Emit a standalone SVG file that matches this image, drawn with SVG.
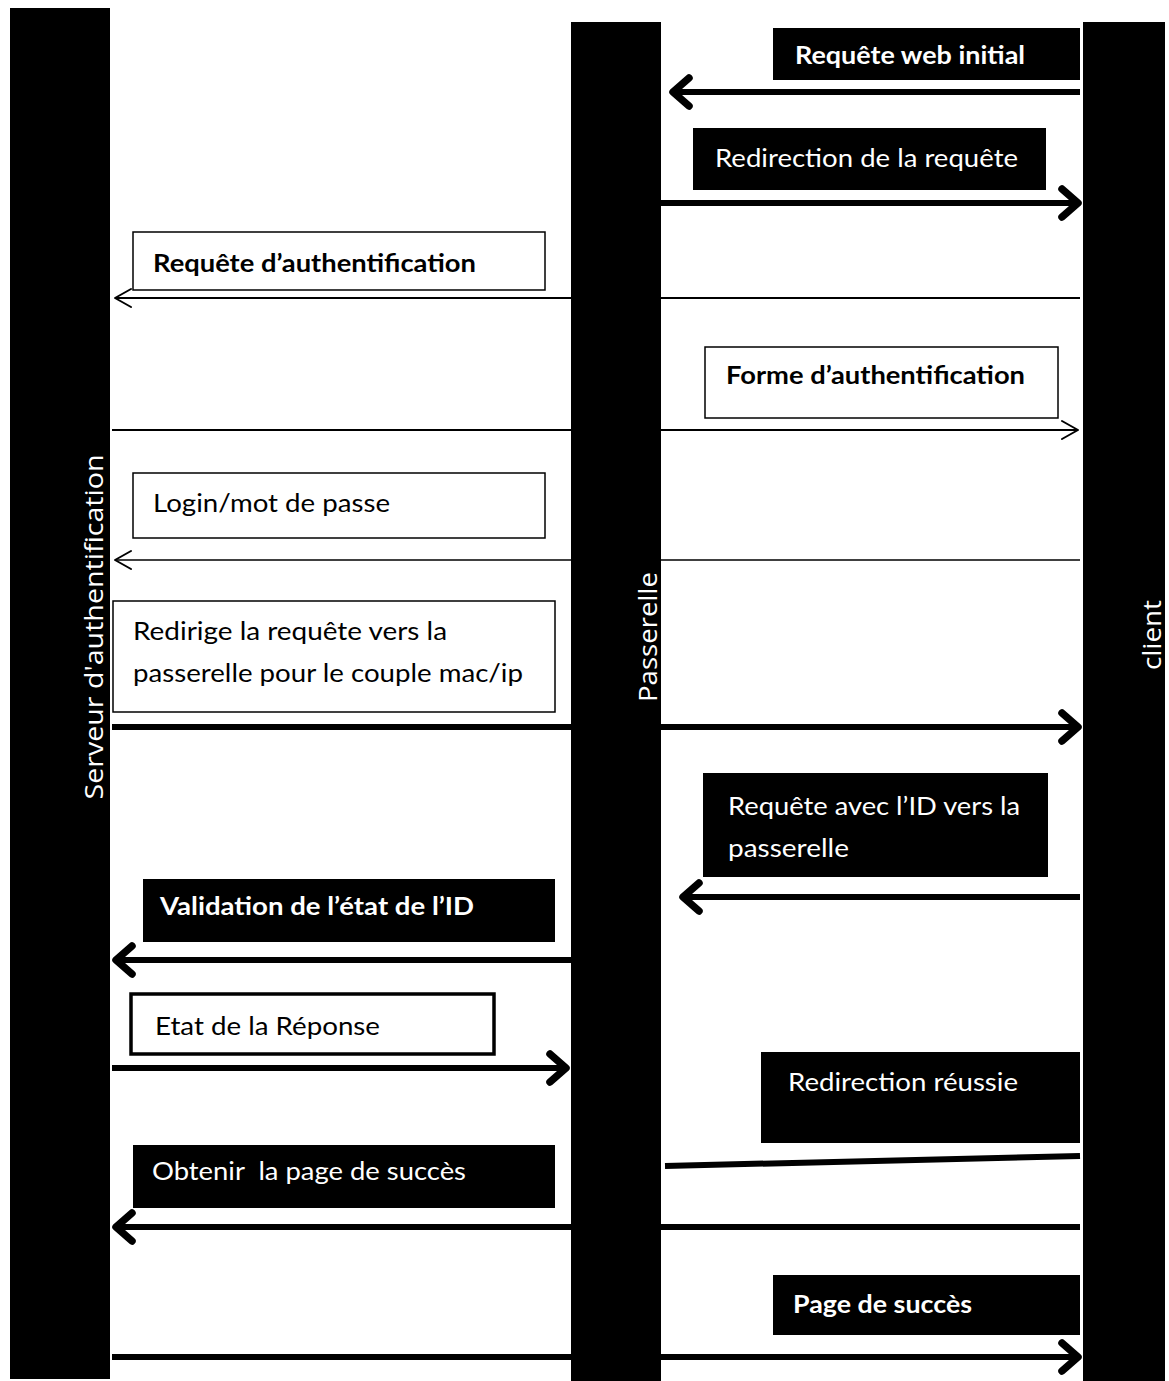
<svg xmlns="http://www.w3.org/2000/svg" width="1169" height="1381" viewBox="0 0 1169 1381">
  <style>
    .bar { fill: #000; }
    .barlbl { fill: #fff; font-family: "Open Sans", "DejaVu Sans", sans-serif; font-size: 25px; }
    .bd { fill: #000; }
    .bw { fill: #fff; stroke: #000; stroke-width: 1.5; }
    .bw3 { fill: #fff; stroke: #000; stroke-width: 3.5; }
    .tl { fill: #fff; font-family: Lato, "Liberation Sans", sans-serif; font-size: 25px; }
    .td { fill: #000; font-family: Lato, "Liberation Sans", sans-serif; font-size: 25px; }
    .b { font-weight: bold; }
    .thick { fill: none; stroke: #000; stroke-width: 6; }
    .thin { fill: none; stroke: #000; stroke-width: 2; }
    .hair { fill: none; stroke: #000; stroke-width: 1.5; }
  </style>
  <defs>
    <marker id="hThick" markerUnits="userSpaceOnUse" viewBox="-26 -20 32 40" markerWidth="32" markerHeight="40" refX="0" refY="0" orient="auto">
      <path d="M-16,-14 L0,0 L-16,14" fill="none" stroke="#000" stroke-width="7.5" stroke-linecap="round" stroke-linejoin="round"/>
    </marker>
    <marker id="hThin" markerUnits="userSpaceOnUse" viewBox="-22 -14 26 28" markerWidth="26" markerHeight="28" refX="0" refY="0" orient="auto">
      <path d="M-16,-9 L0,0 L-16,9" fill="none" stroke="#000" stroke-width="2" stroke-linecap="round" stroke-linejoin="round"/>
    </marker>
  </defs>
  <rect width="1169" height="1381" fill="#fff"/>

  <g id="connectors">
    <path class="thick" d="M1080,92 L673,92" marker-end="url(#hThick)"/>
    <path class="thick" d="M660,203 L1078,203" marker-end="url(#hThick)"/>
    <path class="thin" d="M1080,298 L115,298" marker-end="url(#hThin)"/>
    <path class="thin" d="M112,430 L1078,430" marker-end="url(#hThin)"/>
    <path class="hair" d="M1080,560 L115,560" marker-end="url(#hThin)"/>
    <path class="thick" d="M112,727 L1078,727" marker-end="url(#hThick)"/>
    <path class="thick" d="M1080,897 L683,897" marker-end="url(#hThick)"/>
    <path class="thick" d="M580,960 L116,960" marker-end="url(#hThick)"/>
    <path class="thick" d="M112,1068 L566,1068" marker-end="url(#hThick)"/>
    <path class="thick" d="M665,1166 L1080,1156"/>
    <path class="thick" d="M1080,1227 L116,1227" marker-end="url(#hThick)"/>
    <path class="thick" d="M112,1357 L1078,1357" marker-end="url(#hThick)"/>
  </g>

  <g id="serveur">
    <rect class="bar" x="10" y="8" width="100" height="1371"/>
    <text class="barlbl" transform="translate(103,627) rotate(-90)" text-anchor="middle" textLength="345" lengthAdjust="spacingAndGlyphs">Serveur d'authentification</text>
  </g>
  <g id="passerelle">
    <rect class="bar" x="571" y="22" width="90" height="1359"/>
    <text class="barlbl" transform="translate(657,637) rotate(-90)" text-anchor="middle" textLength="130" lengthAdjust="spacingAndGlyphs">Passerelle</text>
  </g>
  <g id="client">
    <rect class="bar" x="1083" y="22" width="82" height="1359"/>
    <text class="barlbl" transform="translate(1161,635) rotate(-90)" text-anchor="middle" textLength="70" lengthAdjust="spacingAndGlyphs">client</text>
  </g>

  <g id="m1">
    <rect class="bd" x="773" y="28" width="307" height="52"/>
    <text class="tl b" x="795" y="64" textLength="230" lengthAdjust="spacingAndGlyphs">Requête web initial</text>
  </g>
  <g id="m2">
    <rect class="bd" x="693" y="128" width="353" height="62"/>
    <text class="tl" x="715" y="167" textLength="303" lengthAdjust="spacingAndGlyphs">Redirection de la requête</text>
  </g>
  <g id="m3">
    <rect class="bw" x="133" y="232" width="412" height="58"/>
    <text class="td b" x="153" y="272" textLength="323" lengthAdjust="spacingAndGlyphs">Requête d’authentification</text>
  </g>
  <g id="m4">
    <rect class="bw" x="705" y="347" width="353" height="71"/>
    <text class="td b" x="726" y="384" textLength="299" lengthAdjust="spacingAndGlyphs">Forme d’authentification</text>
  </g>
  <g id="m5">
    <rect class="bw" x="133" y="473" width="412" height="65"/>
    <text class="td" x="153" y="512" textLength="237" lengthAdjust="spacingAndGlyphs">Login/mot de passe</text>
  </g>
  <g id="m6">
    <rect class="bw" x="113" y="601" width="442" height="111"/>
    <text class="td" x="133" y="640" textLength="314" lengthAdjust="spacingAndGlyphs">Redirige la requête vers la</text>
    <text class="td" x="133" y="682" textLength="390" lengthAdjust="spacingAndGlyphs">passerelle pour le couple mac/ip</text>
  </g>
  <g id="m7">
    <rect class="bd" x="703" y="773" width="345" height="104"/>
    <text class="tl" x="728" y="815" textLength="292" lengthAdjust="spacingAndGlyphs">Requête avec l’ID vers la</text>
    <text class="tl" x="728" y="857" textLength="121" lengthAdjust="spacingAndGlyphs">passerelle</text>
  </g>
  <g id="m8">
    <rect class="bd" x="143" y="879" width="412" height="63"/>
    <text class="tl b" x="160" y="915" textLength="314" lengthAdjust="spacingAndGlyphs">Validation de l’état de l’ID</text>
  </g>
  <g id="m9">
    <rect class="bw3" x="131" y="994" width="363" height="60"/>
    <text class="td" x="155" y="1035" textLength="225" lengthAdjust="spacingAndGlyphs">Etat de la Réponse</text>
  </g>
  <g id="m10">
    <rect class="bd" x="761" y="1052" width="319" height="91"/>
    <text class="tl" x="788" y="1091" textLength="230" lengthAdjust="spacingAndGlyphs">Redirection réussie</text>
  </g>
  <g id="m11">
    <rect class="bd" x="133" y="1145" width="422" height="63"/>
    <text class="tl" x="152" y="1180" textLength="314" lengthAdjust="spacingAndGlyphs" xml:space="preserve">Obtenir  la page de succès</text>
  </g>
  <g id="m12">
    <rect class="bd" x="773" y="1275" width="307" height="60"/>
    <text class="tl b" x="793" y="1313" textLength="179" lengthAdjust="spacingAndGlyphs">Page de succès</text>
  </g>
</svg>
